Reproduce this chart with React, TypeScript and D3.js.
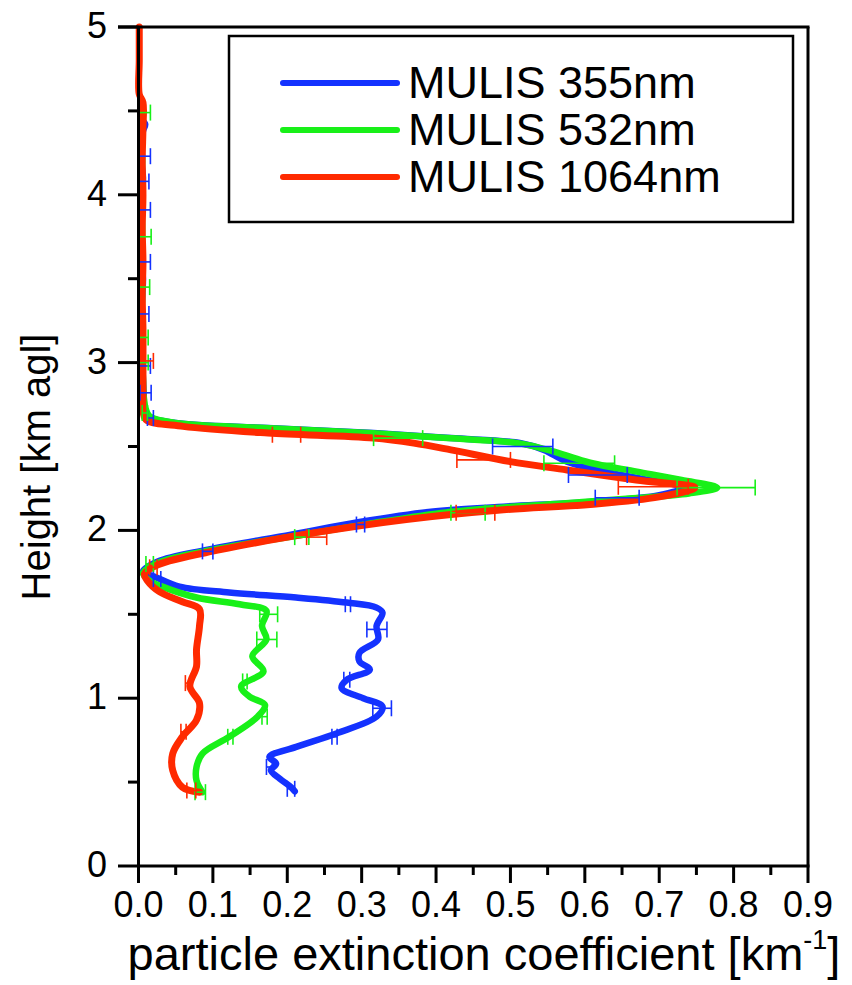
import * as d3 from 'd3';

// [height km, extinction km^-1]
const profile355: [number, number][] = [
  [4.45, 0.004], [4.42, 0.009], [4.38, 0.006], [4.30, 0.005], [4.20, 0.004], [4.10, 0.006],
  [4.00, 0.004], [3.90, 0.005], [3.80, 0.004], [3.70, 0.005], [3.60, 0.004], [3.50, 0.006],
  [3.40, 0.005], [3.30, 0.004], [3.20, 0.005], [3.10, 0.004], [3.00, 0.005], [2.90, 0.006],
  [2.80, 0.007], [2.72, 0.008], [2.68, 0.012], [2.64, 0.05], [2.61, 0.174], [2.58, 0.316],
  [2.55, 0.42], [2.52, 0.514], [2.48, 0.545], [2.41, 0.576], [2.34, 0.638], [2.29, 0.70],
  [2.255, 0.733], [2.21, 0.70], [2.17, 0.607], [2.14, 0.483], [2.11, 0.39], [2.05, 0.297],
  [1.975, 0.205], [1.885, 0.093], [1.815, 0.026], [1.755, 0.006], [1.72, 0.024], [1.665, 0.055],
  [1.63, 0.122], [1.60, 0.212], [1.57, 0.28], [1.54, 0.32], [1.51, 0.328], [1.43, 0.32],
  [1.35, 0.322], [1.27, 0.297], [1.22, 0.297], [1.17, 0.311], [1.11, 0.28], [1.06, 0.273],
  [1.00, 0.302], [0.95, 0.328], [0.89, 0.32], [0.79, 0.266], [0.71, 0.212], [0.65, 0.176],
  [0.61, 0.185], [0.57, 0.178], [0.52, 0.19], [0.47, 0.205], [0.445, 0.21],
];

const profile532: [number, number][] = [
  [4.50, 0.004], [4.40, 0.005], [4.30, 0.004], [4.20, 0.005], [4.10, 0.004], [4.00, 0.005],
  [3.90, 0.004], [3.80, 0.005], [3.70, 0.004], [3.60, 0.005], [3.50, 0.004], [3.40, 0.005],
  [3.30, 0.004], [3.20, 0.005], [3.10, 0.004], [3.00, 0.005], [2.90, 0.006], [2.80, 0.007],
  [2.72, 0.01], [2.68, 0.015], [2.64, 0.05], [2.61, 0.17], [2.58, 0.31], [2.55, 0.415],
  [2.52, 0.51], [2.48, 0.55], [2.44, 0.58], [2.40, 0.61], [2.35, 0.67], [2.30, 0.73],
  [2.255, 0.778], [2.22, 0.74], [2.19, 0.66], [2.16, 0.57], [2.13, 0.47], [2.10, 0.40],
  [2.04, 0.31], [1.97, 0.215], [1.885, 0.10], [1.81, 0.028], [1.745, 0.006], [1.70, 0.015],
  [1.665, 0.032], [1.60, 0.078], [1.56, 0.136], [1.52, 0.172], [1.43, 0.166], [1.35, 0.172],
  [1.25, 0.153], [1.16, 0.168], [1.07, 0.138], [1.01, 0.149], [0.96, 0.17], [0.89, 0.16],
  [0.77, 0.122], [0.67, 0.086], [0.59, 0.078], [0.51, 0.078], [0.44, 0.086],
];

const profile1064: [number, number][] = [
  [5.00, 0.001], [4.80, 0.001], [4.60, 0.001], [4.55, 0.006], [4.40, 0.006], [4.20, 0.005],
  [4.00, 0.006], [3.80, 0.005], [3.60, 0.006], [3.40, 0.005], [3.20, 0.006], [3.00, 0.006],
  [2.80, 0.006], [2.72, 0.006], [2.66, 0.01], [2.62, 0.06], [2.58, 0.174], [2.55, 0.316],
  [2.52, 0.37], [2.48, 0.42], [2.41, 0.50], [2.36, 0.576], [2.30, 0.669], [2.255, 0.748],
  [2.20, 0.70], [2.155, 0.607], [2.12, 0.483], [2.065, 0.36], [1.985, 0.235], [1.885, 0.11],
  [1.795, 0.026], [1.74, 0.008], [1.70, 0.012], [1.635, 0.028], [1.575, 0.059], [1.53, 0.082],
  [1.43, 0.082], [1.29, 0.078], [1.19, 0.078], [1.07, 0.069], [0.97, 0.082], [0.87, 0.078],
  [0.77, 0.059], [0.67, 0.046], [0.57, 0.046], [0.47, 0.059], [0.44, 0.082],
];

// [height km, low, high]
const err355: [number, number, number][] = [
  [4.23, 0.0, 0.016], [4.08, 0.0, 0.014], [3.91, 0.0, 0.016], [3.60, 0.0, 0.016],
  [3.29, 0.0, 0.014], [2.98, 0.0, 0.016], [2.82, 0.002, 0.017], [2.67, 0.012, 0.02],
  [2.50, 0.476, 0.557], [2.33, 0.578, 0.657], [2.195, 0.614, 0.673], [2.035, 0.293, 0.304],
  [1.875, 0.086, 0.10], [1.71, 0.02, 0.03], [1.56, 0.278, 0.285], [1.41, 0.307, 0.334],
  [1.11, 0.276, 0.284], [0.94, 0.315, 0.34], [0.77, 0.26, 0.267], [0.59, 0.172, 0.18],
  [0.46, 0.20, 0.21],
];

const err532: [number, number, number][] = [
  [4.49, 0.0, 0.016], [3.75, 0.0, 0.017], [3.45, 0.0, 0.015], [3.15, 0.0, 0.013],
  [3.00, 0.0, 0.013], [2.70, 0.005, 0.012], [2.55, 0.316, 0.382], [2.40, 0.545, 0.64],
  [2.255, 0.724, 0.829], [2.105, 0.42, 0.466], [1.96, 0.21, 0.229], [1.80, 0.01, 0.02],
  [1.50, 0.163, 0.187], [1.35, 0.159, 0.186], [1.10, 0.14, 0.146], [0.89, 0.166, 0.173],
  [0.77, 0.12, 0.127], [0.44, 0.076, 0.09],
];

const err1064: [number, number, number][] = [
  [3.01, 0.0, 0.02], [2.57, 0.18, 0.218], [2.42, 0.428, 0.50], [2.26, 0.645, 0.739],
  [2.105, 0.427, 0.479], [1.96, 0.226, 0.253], [1.78, 0.015, 0.025], [1.09, 0.063, 0.071],
  [0.80, 0.057, 0.064], [0.45, 0.065, 0.077],
];

const seriesNames = ['MULIS 355nm', 'MULIS 532nm', 'MULIS 1064nm'];
const seriesColors = ['#1432ff', '#18f018', '#ff2a00'];
const xTicks = [0, 0.1, 0.2, 0.3, 0.4, 0.5, 0.6, 0.7, 0.8, 0.9];
const yTicks = [0, 1, 2, 3, 4, 5];

const W = 852;
const H = 985;
const FONT = '"Liberation Sans", Arial, Helvetica, sans-serif';

export default function App() {
  const x = d3.scaleLinear().domain([0, 0.9]).range([138.5, 808]);
  const y = d3.scaleLinear().domain([0, 5]).range([866, 27]);

  const line = d3.line<[number, number]>()
    .x(d => x(d[1]))
    .y(d => y(d[0]))
    .curve(d3.curveCatmullRom.alpha(0.5));

  // drawn blue, green, red; error bars on top
  const series = [
    { profile: profile355, err: err355, color: seriesColors[0], w: 6.5 },
    { profile: profile532, err: err532, color: seriesColors[1], w: 6.5 },
    { profile: profile1064, err: err1064, color: seriesColors[2], w: 7 },
  ];

  const xMinor = d3.range(0.05, 0.9, 0.1);
  const yMinor = d3.range(0.5, 5, 1);

  return (
    <svg width={W} height={H} style={{ position: 'absolute', left: 0, top: 0, background: '#fff' }}
      fontFamily={FONT}>
      <rect width={W} height={H} fill="#fff" />

      {series.map((s, i) => (
        <path key={'l' + i} d={line(s.profile) ?? ''} fill="none" stroke={s.color} strokeWidth={s.w}
          strokeLinejoin="round" strokeLinecap="round" />
      ))}
      {series.map((s, i) => (
        <g key={'e' + i} stroke={s.color} strokeWidth={1.6}>
          {s.err.map((e, j) => (
            <g key={j}>
              <line x1={x(e[1])} x2={x(e[2])} y1={y(e[0])} y2={y(e[0])} />
              <line x1={x(e[1])} x2={x(e[1])} y1={y(e[0]) - 8} y2={y(e[0]) + 8} />
              <line x1={x(e[2])} x2={x(e[2])} y1={y(e[0]) - 8} y2={y(e[0]) + 8} />
            </g>
          ))}
        </g>
      ))}

      {/* frame */}
      <g stroke="#000" strokeWidth={3} fill="none">
        <line x1={118} x2={809.5} y1={y(5)} y2={y(5)} />
        <line x1={808} x2={808} y1={y(5)} y2={y(0)} />
        <line x1={x(0)} x2={x(0)} y1={y(5)} y2={y(0) + 1.5} />
        <line x1={x(0)} x2={809.5} y1={y(0)} y2={y(0)} />
        {yTicks.map(t => <line key={'yt' + t} x1={118} x2={x(0)} y1={y(t)} y2={y(t)} />)}
        {yMinor.map(t => <line key={'ym' + t} x1={128} x2={x(0)} y1={y(t)} y2={y(t)} />)}
        {xTicks.map(t => <line key={'xt' + t} x1={x(t)} x2={x(t)} y1={y(0)} y2={y(0) + 17} />)}
        {xMinor.map(t => <line key={'xm' + t} x1={x(t)} x2={x(t)} y1={y(0)} y2={y(0) + 9} />)}
      </g>

      {yTicks.map(t => (
        <text key={'yl' + t} x={107} y={y(t) + 11} textAnchor="end" fontSize={36} fill="#000">{t}</text>
      ))}
      {xTicks.map(t => (
        <text key={'xl' + t} x={x(t)} y={917} textAnchor="middle" fontSize={36} fill="#000">{t.toFixed(1)}</text>
      ))}

      <text x={484} y={970} textAnchor="middle" fontSize={47} fill="#000">
        particle extinction coefficient [km<tspan fontSize={27} dy={-21}>-1</tspan><tspan dy={21}>]</tspan>
      </text>
      <text transform="translate(50,467) rotate(-90)" textAnchor="middle" fontSize={40} fill="#000">
        Height [km agl]
      </text>

      {/* legend */}
      <rect x={229} y={36} width={564} height={186} fill="#fff" stroke="#000" strokeWidth={2.5} />
      {seriesNames.map((n, i) => (
        <g key={n}>
          <line x1={283} x2={397} y1={83 + i * 47} y2={83 + i * 47} stroke={seriesColors[i]}
            strokeWidth={6} strokeLinecap="round" />
          <text x={408} y={98 + i * 47} fontSize={45} fill="#000">{n}</text>
        </g>
      ))}
    </svg>
  );
}
